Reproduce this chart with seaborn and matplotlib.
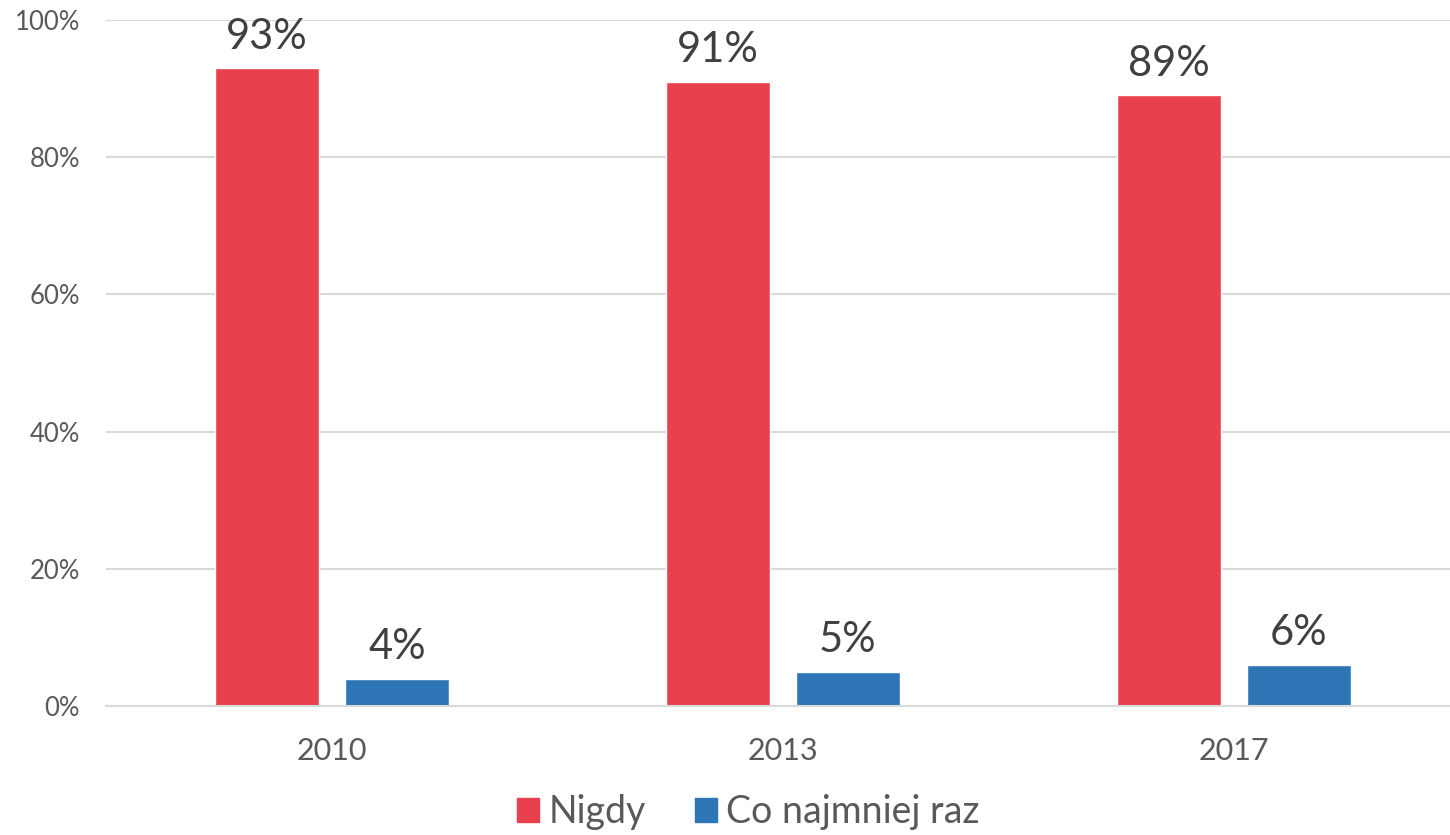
import pandas as pd
import seaborn as sns
import matplotlib.pyplot as plt
from matplotlib.patches import Patch

# data
years = ['2010', '2013', '2017']
series = ['Nigdy', 'Co najmniej raz']
nigdy = [93, 91, 89]
co_najmniej = [4, 5, 6]
colors = ['#E8404C', '#2E75B6']

df = pd.DataFrame({
    'year': years * 2,
    'group': [series[0]] * 3 + [series[1]] * 3,
    'value': nigdy + co_najmniej,
})

sns.set_style('white')
plt.rcParams['font.family'] = ['Lato', 'DejaVu Sans']

fig = plt.figure(figsize=(14.5, 8.35), dpi=100)
ax = fig.add_axes([0.0734, 0.1545, 0.933, 0.8215])

sns.barplot(data=df, x='year', y='value', hue='group', palette=colors,
            width=0.576, gap=0.2, ax=ax, legend=False, saturation=1)

# value labels above bars
for cont in ax.containers:
    ax.bar_label(cont, labels=[f'{v:.0f}%' for v in cont.datavalues],
                 padding=9, fontsize=30, color='#404040')

ax.set_ylim(0, 100)
ax.set_yticks(range(0, 101, 20))
ax.set_yticklabels([f'{t}%' for t in range(0, 101, 20)])
ax.set_xlim(-0.5, 2.5)
ax.grid(axis='y', color='#D9D9D9', linewidth=1.5)
ax.set_axisbelow(True)
for s in ['top', 'right', 'left']:
    ax.spines[s].set_visible(False)
ax.spines['bottom'].set_color('#D9D9D9')
ax.spines['bottom'].set_linewidth(1.5)
ax.tick_params(axis='y', length=0, labelsize=18.5, labelcolor='#595959', pad=19)
ax.tick_params(axis='x', length=0, labelsize=22, labelcolor='#595959', pad=22)
ax.set_xlabel('')
ax.set_ylabel('')

handles = [Patch(color=c, label=l) for c, l in zip(colors, series)]
fig.legend(handles=handles, loc='center', bbox_to_anchor=(0.516, 0.027), ncol=2,
           frameon=False, fontsize=27, handlelength=0.6, handleheight=0.6,
           handletextpad=0.25, columnspacing=1.3, labelcolor='#595959')

fig.savefig('out.png', dpi=100)
